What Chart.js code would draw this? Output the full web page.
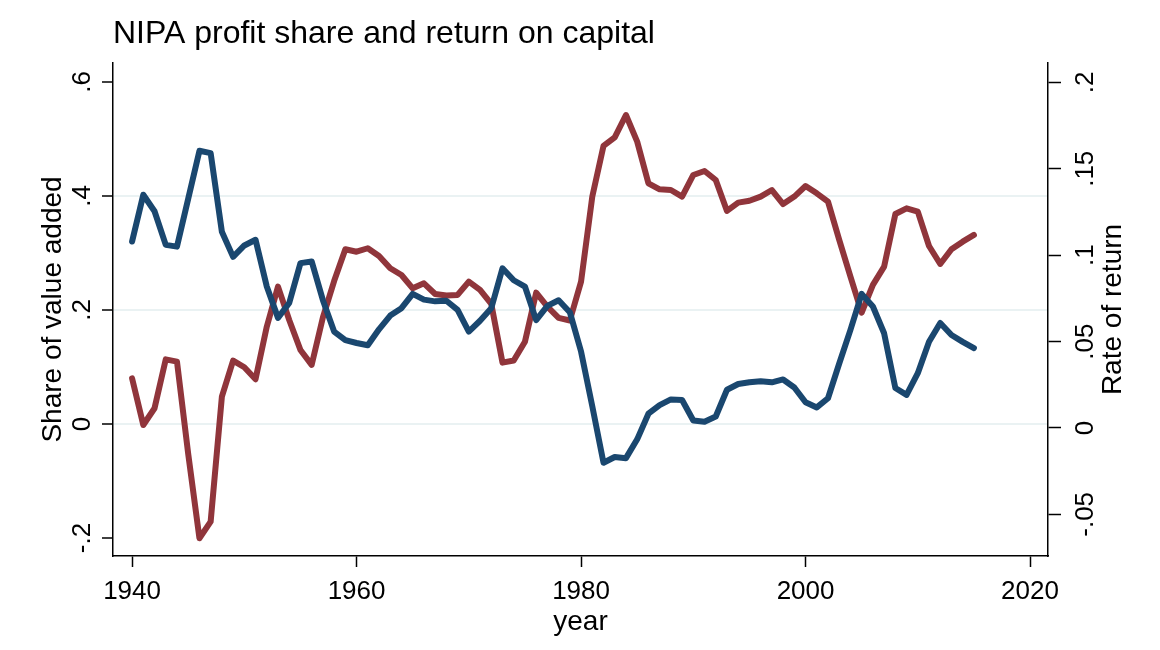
<!DOCTYPE html>
<html>
<head>
<meta charset="utf-8">
<script src="https://cdn.jsdelivr.net/npm/chart.js@4/dist/chart.umd.min.js"></script>
<style>
  html, body { margin: 0; padding: 0; background: #ffffff; }
  #wrap { width: 1160px; height: 650px; position: relative; }
  canvas { display: block; }
</style>
</head>
<body>
<div id="wrap"><canvas id="c" width="1160" height="650"></canvas></div>
<script>
// ---- data ----
const years = [
  1940,1941,1942,1943,1944,1945,1946,1947,1948,1949,
  1950,1951,1952,1953,1954,1955,1956,1957,1958,1959,
  1960,1961,1962,1963,1964,1965,1966,1967,1968,1969,
  1970,1971,1972,1973,1974,1975,1976,1977,1978,1979,
  1980,1981,1982,1983,1984,1985,1986,1987,1988,1989,
  1990,1991,1992,1993,1994,1995,1996,1997,1998,1999,
  2000,2001,2002,2003,2004,2005,2006,2007,2008,2009,
  2010,2011,2012,2013,2014,2015
];
const profitShare = [
  0.320,0.402,0.373,0.314,0.311,0.395,0.479,0.475,0.337,0.293,
  0.313,0.323,0.241,0.186,0.212,0.282,0.285,0.217,0.162,0.147,
  0.142,0.138,0.166,0.190,0.203,0.228,0.218,0.215,0.216,0.200,
  0.162,0.181,0.203,0.273,0.252,0.241,0.182,0.207,0.217,0.196,
  0.127,0.031,-0.068,-0.058,-0.060,-0.027,0.018,0.033,0.043,0.042,
  0.006,0.004,0.013,0.060,0.070,0.073,0.075,0.073,0.078,0.064,
  0.038,0.029,0.045,0.106,0.165,0.228,0.206,0.159,0.063,0.051,
  0.089,0.144,0.177,0.156,0.144,0.133
];
const returnOnCapital = [
  0.0287,0.0017,0.0114,0.0397,0.0384,-0.0150,-0.0638,-0.0542,0.0181,0.0390,
  0.0351,0.0282,0.0586,0.0818,0.0625,0.0451,0.0365,0.0640,0.0850,0.1034,
  0.1020,0.1040,0.0995,0.0924,0.0885,0.0808,0.0837,0.0775,0.0766,0.0770,
  0.0847,0.0799,0.0718,0.0378,0.0390,0.0499,0.0783,0.0702,0.0637,0.0622,
  0.0847,0.1339,0.1632,0.1682,0.1811,0.1657,0.1416,0.1381,0.1377,0.1339,
  0.1464,0.1487,0.1435,0.1256,0.1304,0.1315,0.1339,0.1377,0.1296,0.1339,
  0.1400,0.1358,0.1310,0.1088,0.0876,0.0667,0.0828,0.0934,0.1238,0.1271,
  0.1252,0.1053,0.0949,0.1034,0.1078,0.1117
];
const xTickValues = [1940, 1960, 1980, 2000, 2020];
const leftTickValues = [-0.2, 0, 0.2, 0.4, 0.6];
const leftTickLabels = ['-.2', '0', '.2', '.4', '.6'];
const rightTickValues = [-0.05, 0, 0.05, 0.1, 0.15, 0.2];
const rightTickLabels = ['-.05', '0', '.05', '.1', '.15', '.2'];
const chartTitle = 'NIPA profit share and return on capital';
const xAxisTitle = 'year';
const leftAxisTitle = 'Share of value added';
const rightAxisTitle = 'Rate of return';

// ---- styling ----
const FONT = '"Liberation Sans", Arial, Helvetica, sans-serif';
const BLUE = '#1a476f';
const RED = '#90353b';
const GRID = '#eaf2f3';

const shareData = years.map((y, i) => ({ x: y, y: profitShare[i] }));
const rateData = years.map((y, i) => ({ x: y, y: returnOnCapital[i] }));

const rotatedLabels = {
  id: 'rotatedLabels',
  afterDraw(chart) {
    const ctx = chart.ctx;
    const yl = chart.scales.y, yr = chart.scales.y1;
    const area = chart.chartArea;
    const midY = (area.top + area.bottom) / 2;
    ctx.save();
    ctx.fillStyle = '#000';
    ctx.textAlign = 'center';
    ctx.textBaseline = 'alphabetic';
    ctx.font = '26px ' + FONT;
    leftTickValues.forEach((v, i) => {
      ctx.save();
      ctx.translate(yl.right - 23, yl.getPixelForValue(v));
      ctx.rotate(-Math.PI / 2);
      ctx.fillText(leftTickLabels[i], 0, 0);
      ctx.restore();
    });
    rightTickValues.forEach((v, i) => {
      ctx.save();
      ctx.translate(yr.left + 44.5, yr.getPixelForValue(v));
      ctx.rotate(-Math.PI / 2);
      ctx.fillText(rightTickLabels[i], 0, 0);
      ctx.restore();
    });
    ctx.font = '28px ' + FONT;
    ctx.save();
    ctx.translate(61, midY);
    ctx.rotate(-Math.PI / 2);
    ctx.fillText(leftAxisTitle, 0, 0);
    ctx.restore();
    ctx.save();
    ctx.translate(1121, midY);
    ctx.rotate(-Math.PI / 2);
    ctx.fillText(rightAxisTitle, 0, 0);
    ctx.restore();
    ctx.restore();
  }
};

const whiteBg = {
  id: 'whiteBg',
  beforeDraw(chart) {
    const ctx = chart.ctx;
    ctx.save();
    ctx.fillStyle = '#ffffff';
    ctx.fillRect(0, 0, chart.width, chart.height);
    ctx.restore();
  }
};

new Chart(document.getElementById('c'), {
  type: 'line',
  data: {
    datasets: [
      {
        label: leftAxisTitle,
        data: shareData,
        yAxisID: 'y',
        borderColor: BLUE,
        backgroundColor: BLUE,
        borderWidth: 6,
        pointRadius: 0,
        tension: 0,
        borderJoinStyle: 'round',
        borderCapStyle: 'round',
        fill: false
      },
      {
        label: rightAxisTitle,
        data: rateData,
        yAxisID: 'y1',
        borderColor: RED,
        backgroundColor: RED,
        borderWidth: 6,
        pointRadius: 0,
        tension: 0,
        borderJoinStyle: 'round',
        borderCapStyle: 'round',
        fill: false
      }
    ]
  },
  options: {
    responsive: false,
    animation: false,
    devicePixelRatio: 1,
    layout: { padding: 0 },
    plugins: {
      legend: { display: false },
      tooltip: { enabled: false },
      title: {
        display: true,
        text: chartTitle,
        align: 'start',
        fullSize: false,
        color: '#000',
        font: { family: FONT, size: 32, weight: 'normal', lineHeight: 1.2 },
        padding: { top: 15, bottom: 9.6 }
      }
    },
    scales: {
      x: {
        type: 'linear',
        position: 'bottom',
        min: 1938.3,
        max: 2021.6,
        afterBuildTicks: (s) => { s.ticks = xTickValues.map(v => ({ value: v })); },
        afterFit: (s) => { s.height = 94; },
        ticks: {
          autoSkip: false,
          maxRotation: 0,
          minRotation: 0,
          padding: 9,
          color: '#000',
          font: { family: FONT, size: 26, lineHeight: 1.2 },
          callback: (v) => String(v)
        },
        grid: {
          drawOnChartArea: false,
          drawTicks: true,
          tickLength: 11,
          tickColor: '#000',
          tickWidth: 1.5
        },
        border: { display: true, color: '#000', width: 1.5 },
        title: {
          display: true,
          text: xAxisTitle,
          color: '#000',
          font: { family: FONT, size: 28, lineHeight: 1.2 },
          padding: { top: 0, bottom: 11 }
        }
      },
      y: {
        type: 'linear',
        position: 'left',
        min: -0.2316,
        max: 0.633,
        afterBuildTicks: (s) => { s.ticks = leftTickValues.map(v => ({ value: v })); },
        afterFit: (s) => { s.width = 113; },
        ticks: { display: false },
        grid: {
          drawOnChartArea: true,
          drawTicks: true,
          tickLength: 11,
          tickColor: '#000',
          tickWidth: 1.5,
          lineWidth: 2,
          color: (c) => (c.tick && c.tick.value > -0.1 && c.tick.value < 0.5) ? GRID : 'rgba(0,0,0,0)'
        },
        border: { display: true, color: '#000', width: 1.5 }
      },
      y1: {
        type: 'linear',
        position: 'right',
        min: -0.0741,
        max: 0.2112,
        afterBuildTicks: (s) => { s.ticks = rightTickValues.map(v => ({ value: v })); },
        afterFit: (s) => { s.width = 112; },
        ticks: { display: false },
        grid: {
          drawOnChartArea: false,
          drawTicks: true,
          tickLength: 13,
          tickColor: '#000',
          tickWidth: 1.5
        },
        border: { display: true, color: '#000', width: 1.5 }
      }
    }
  },
  plugins: [whiteBg, rotatedLabels]
});
</script>
</body>
</html>
